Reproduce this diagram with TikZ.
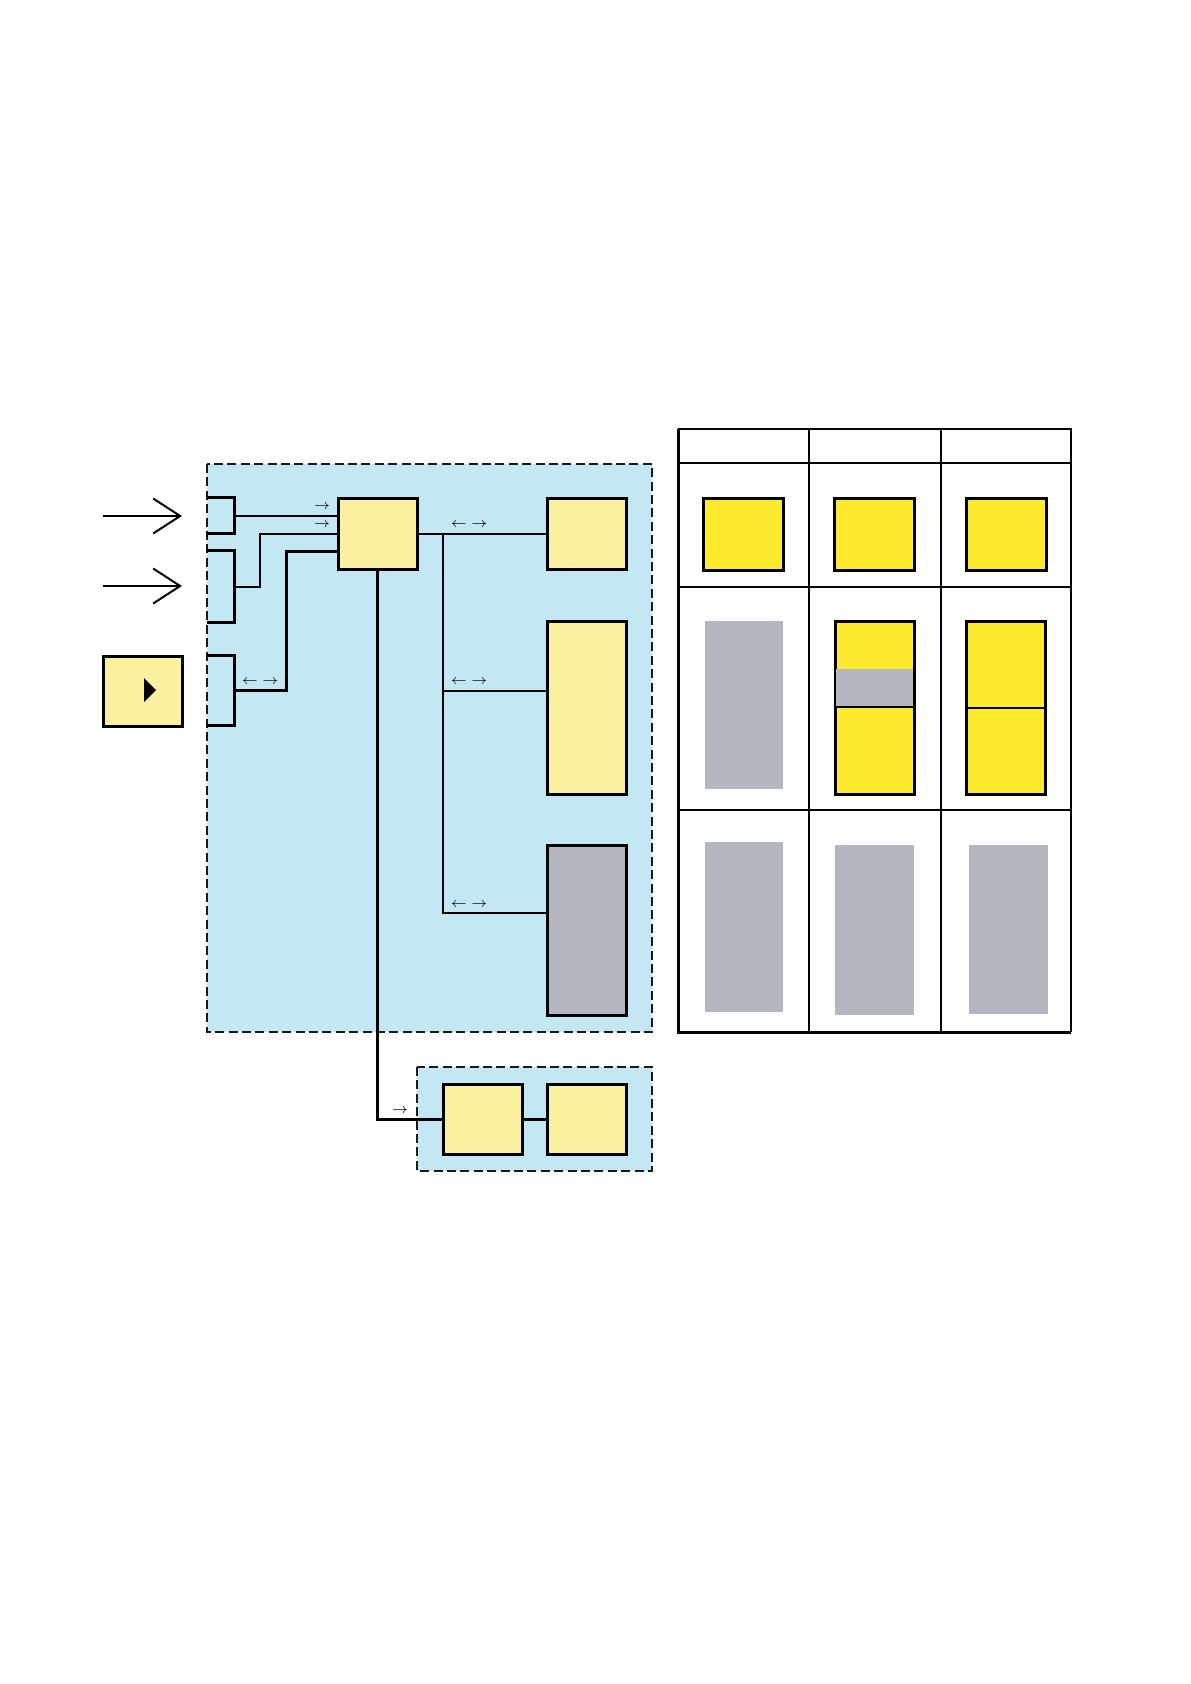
\documentclass[tikz,border=0pt]{standalone}
\usepackage{tikz}
\usetikzlibrary{arrows.meta,positioning,calc}
\definecolor{zoneblue}{RGB}{196,232,243}
\definecolor{paleyellow}{RGB}{250,240,160}
\definecolor{brightyellow}{RGB}{253,234,45}
\definecolor{boxgray}{RGB}{180,183,192}

\begin{document}
\begin{tikzpicture}[x=0.5pt, y=-0.5pt,
      box/.style={rectangle, draw=black, line width=1.5pt, fill=paleyellow,
                  inner sep=0pt, minimum width=39.5pt, minimum height=35.5pt},
      tallbox/.style={box, minimum height=86.5pt},
      port/.style={rectangle, inner sep=0pt, minimum width=13.5pt},
      zone/.style={draw=black!90, dash pattern=on 4.5pt off 2.2pt, line width=1.2pt, fill=zoneblue},
      wire/.style={line width=1pt},
      thickwire/.style={line width=1.5pt},
      inarrow/.style={line width=1pt, -{Straight Barb[length=13.5pt, width=17.5pt]}},
      tag/.style={font=\scriptsize, inner sep=0pt},
      cellline/.style={line width=0.6pt}
    ]
    \useasboundingbox (0,0) rectangle (1190,1684);

    % zones
    \draw[zone] (207,464) rectangle (652,1032);
    \draw[zone] (417,1067) rectangle (652,1171);

    % inputs
    \coordinate (in1a) at (103,516);
    \coordinate (in1b) at (182,516);
    \coordinate (in2a) at (103,586);
    \coordinate (in2b) at (182,586);
    \draw[inarrow] (in1a) -- (in1b);
    \draw[inarrow] (in2a) -- (in2b);
    \node[box, minimum height=35pt] (button) at (142.5,691) {};
    \fill[black] (144,678) -- (156,690) -- (144,702) -- cycle;

    % ports on the zone edge
    \node[port, minimum height=17.5pt] (port1) at (220.5,515.5) {};
    \node[port, minimum height=35.5pt] (port2) at (220.5,586.5) {};
    \node[port, minimum height=34.5pt] (port3) at (220.5,690.5) {};
    \foreach \p in {port1,port2,port3}
      \draw[thickwire] (\p.north west) -| (\p.south east) -- (\p.south west);

    % blocks
    \node[box] (main) at (377.5,533.5) {};
    \node[box] (out1) at (587,533.5) {};
    \node[tallbox, minimum height=86.5pt] (out2) at (587,707.5) {};
    \node[tallbox, fill=boxgray, minimum height=85pt] (out3) at (587,930) {};
    \node[box, minimum height=35pt] (low1) at (482.5,1119) {};
    \node[box, minimum height=35pt] (low2) at (586.5,1119) {};

    % wires into main
    \draw[wire] (port1.east) -- (port1.east -| main.west);
    \draw[wire] (port2.east) -- (260,586.5) |- (main.west);
    \draw[thickwire] (port3.east) -- (286,690.5) |- ($(main.west)+(0,17.5)$);
    \node[tag] at (322,507) {$\rightarrow$};
    \node[tag] at (322,525) {$\rightarrow$};
    \node[tag] at (260,682) {$\leftarrow\;\rightarrow$};

    % bus to outputs
    \coordinate (bus1) at (443,533.5);
    \coordinate (bus2) at (443,691);
    \coordinate (bus3) at (443,913);
    \draw[wire] (main.east) -- (out1.west);
    \draw[wire] (bus1) -- (bus3) -- (bus3 -| out3.west);
    \draw[wire] (bus2) -- (bus2 -| out2.west);
    \foreach \y in {525,682,905}
      \node[tag] at (469,\y) {$\leftarrow\;\rightarrow$};

    % down to the lower zone
    \draw[thickwire] (main.south) |- (low1.west);
    \draw[thickwire] (low1.east) -- (low2.west);
    \node[tag] at (400,1111) {$\rightarrow$};

    % table
    \foreach \x in {809,941}
      \draw[cellline] (\x,429) -- (\x,1032);
    \foreach \y in {463,587,810}
      \draw[cellline] (678,\y) -- (1071,\y);
    \draw[line width=1pt] (678,429) -- (1071,429) -- (1071,1032);
    \draw[line width=1.5pt] (678,429) -- (678,1032) -- (1071,1032);

    % row 1
    \foreach \x in {703,834,966}
      \draw[line width=1.5pt, fill=brightyellow] (\x,498) rectangle ++(80,72);

    % row 2
    \fill[boxgray] (705,621) rectangle (783,789);
    \draw[line width=1.5pt, fill=brightyellow] (835,621) rectangle (914,794);
    \fill[boxgray] (835.5,669) rectangle (913,707);
    \draw[cellline] (835,707) -- (914,707);
    \draw[line width=1.5pt, fill=brightyellow] (966,621) rectangle (1045,794);
    \draw[cellline] (966,708) -- (1045,708);

    % row 3
    \fill[boxgray] (705,842) rectangle (783,1012);
    \fill[boxgray] (835,845) rectangle (914,1015);
    \fill[boxgray] (969,845) rectangle (1048,1014);
  \end{tikzpicture}
\end{document}
